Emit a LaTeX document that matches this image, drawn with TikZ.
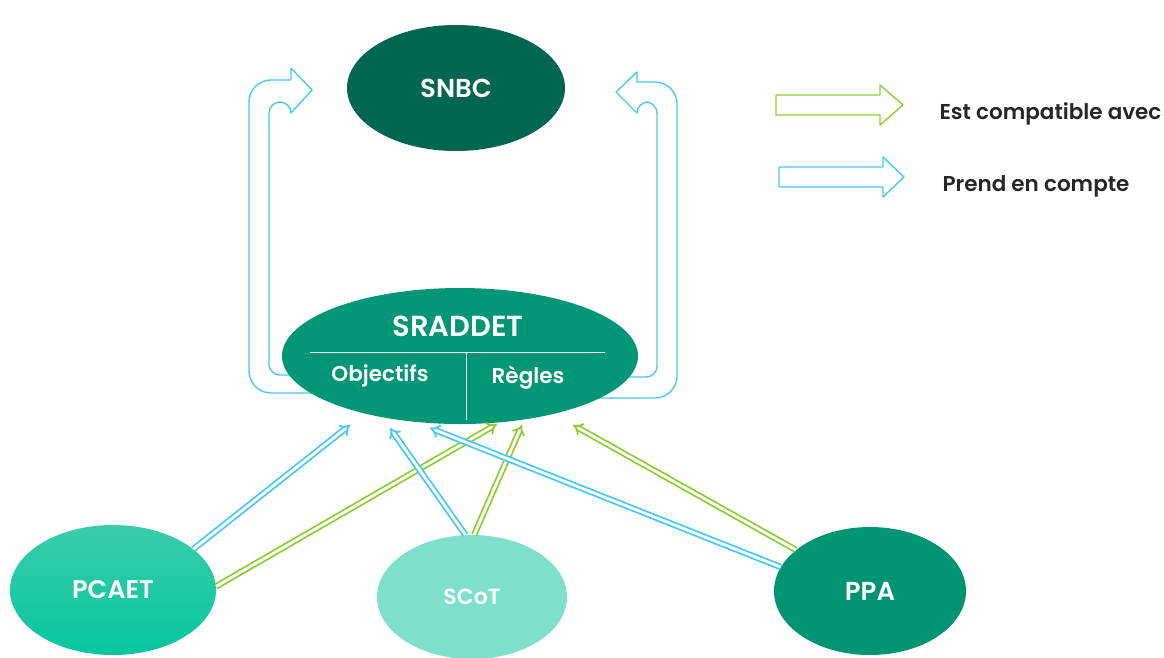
\documentclass[tikz,border=0pt]{standalone}
\usepackage{fontspec}
\setmainfont{Poppins}[BoldFont={Poppins SemiBold}]
\usetikzlibrary{shapes.geometric,arrows.meta}
\definecolor{cblue}{RGB}{70,200,248}
\definecolor{cgreen}{RGB}{140,206,50}
\definecolor{csnbc}{RGB}{0,102,80}
\definecolor{csrad}{RGB}{0,150,118}
\definecolor{cpcaetT}{RGB}{58,204,170}
\definecolor{cpcaetB}{RGB}{4,198,158}
\definecolor{cscot}{RGB}{126,223,202}
\definecolor{cppa}{RGB}{0,148,114}
\newcommand{\fs}[1]{\fontsize{#1}{#1}\selectfont\bfseries}
\tikzset{
  ell/.style={ellipse, inner sep=0pt, draw=none},
  lbl/.style={text=white},
  blk/.style={line width=1.4pt, line join=round},
  dbl/.style={line width=1.8pt, double=white, double distance=2.8pt, -{Implies[scale=1.15]}},
  dblue/.style={dbl, draw=cblue},
  dgreen/.style={dbl, draw=cgreen},
  legtxt/.style={anchor=base west, font=\fs{21.5}, text=black!85},
}
\begin{document}
\begin{tikzpicture}[x=1pt,y=-1pt]
\useasboundingbox (0,0) rectangle (1164,657);
% curved block arrows (behind SRADDET)
\draw[blk, cblue] (300,375) [rounded corners=11] -- (269,375) -- (269,102) -- (291,102) [sharp corners] -- (291,113) -- (312,90) -- (291,68) -- (291,80) [rounded corners=22] -- (249,80) -- (249,393) -- (335,393);
\draw[blk, cblue] (620,377) [rounded corners=11] -- (657,377) -- (657,102) -- (637,102) [sharp corners] -- (637,113) -- (616,92) -- (637,72) -- (637,82) [rounded corners=22] -- (677,82) -- (677,398) -- (590,398);
% nodes
\node[ell, fill=csnbc, minimum width=218pt, minimum height=126pt] (snbc) at (456,88) {};
\node[lbl, font=\fs{26}] at (snbc) {SNBC};
\node[ell, fill=csrad, minimum width=356pt, minimum height=136pt] (srad) at (460,356) {};
\node[lbl, font=\fs{29}] (sradt) at (458,326) {SRADDET};
\draw[white, line width=1pt] (310,352) coordinate (hl) -- (605,352) coordinate (hr);
\draw[white, line width=1pt] (466,352) coordinate (vt) -- (466,420) coordinate (vb);
\node[lbl, font=\fs{21.5}] (obj) at (380,376) {Objectifs};
\node[lbl, font=\fs{21.5}] (reg) at (528,378) {Règles};
\node[ell, top color=cpcaetT, bottom color=cpcaetB, minimum width=206pt, minimum height=130pt] (pcaet) at (113,590) {};
\node[lbl, font=\fs{25.5}] at (pcaet) {PCAET};
\node[ell, fill=cscot, minimum width=190pt, minimum height=124pt] (scot) at (472,597) {};
\node[lbl, font=\fs{22}] at (scot) {SCoT};
\node[ell, fill=cppa, minimum width=192pt, minimum height=128pt] (ppa) at (870,591) {};
\node[lbl, font=\fs{26}] at (ppa) {PPA};
% arrow targets
\coordinate (tb1) at (350,425);
\coordinate (tb2) at (390,428);
\coordinate (tb3) at (430,428);
\coordinate (tg1) at (497,424);
\coordinate (tg2) at (522,425);
\coordinate (tg3) at (573,425);
% double arrows
\draw[dblue] (pcaet.27) -- (tb1);
\draw[dgreen] (pcaet.2) -- (tg1);
\draw[dblue] (scot.96) -- (tb2);
\draw[dgreen] (scot.88) -- (tg2);
\draw[dblue] (ppa.165) -- (tb3);
\draw[dgreen] (ppa.151) -- (tg3);
% legend
\draw[blk, cgreen] (776,95) -- (880,95) -- (880,85) -- (903,105) -- (880,125) -- (880,115) -- (776,115) -- cycle;
\draw[blk, cblue] (779,167) -- (883,167) -- (883,157) -- (904,177) -- (883,197) -- (883,187) -- (779,187) -- cycle;
\node[legtxt] (l1) at (936,119) {Est compatible avec};
\node[legtxt] (l2) at (939,191) {Prend en compte};
\end{tikzpicture}
\end{document}
